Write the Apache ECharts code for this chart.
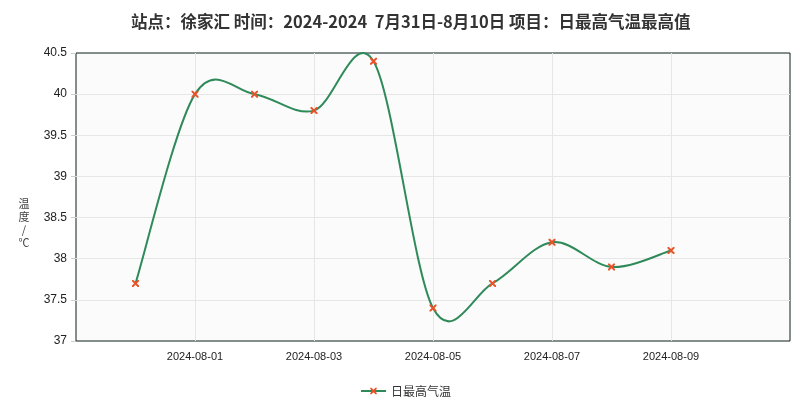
<!DOCTYPE html>
<html>
<head>
<meta charset="utf-8">
<script src="https://cdn.jsdelivr.net/npm/echarts@6/dist/echarts.min.js"></script>
<style>html,body{margin:0;padding:0;background:#fff}#c{width:811px;height:408px}</style>
</head>
<body>
<div id="c"></div>
<script>
// Axis categories (padding days at both ends, as in the reference axis range)
var categories = ['2024-07-30','2024-07-31','2024-08-01','2024-08-02','2024-08-03','2024-08-04','2024-08-05','2024-08-06','2024-08-07','2024-08-08','2024-08-09','2024-08-10','2024-08-11'];
// Observed dates and daily maximum temperatures
var dates = ['2024-07-31','2024-08-01','2024-08-02','2024-08-03','2024-08-04','2024-08-05','2024-08-06','2024-08-07','2024-08-08','2024-08-09'];
var maxTemp = [37.7, 40.0, 40.0, 39.8, 40.4, 37.4, 37.7, 38.2, 37.9, 38.1];
var yTicks = [37, 37.5, 38, 38.5, 39, 39.5, 40, 40.5];
var xTickLabels = ['2024-08-01','2024-08-03','2024-08-05','2024-08-07','2024-08-09'];
var seriesName = '日最高气温';
var titleText = '站点：徐家汇 时间：2024-2024  7月31日-8月10日 项目：日最高气温最高值';

var pairs = dates.map(function(d, i){ return [d, maxTemp[i]]; });
var idxPairs = dates.map(function(d, i){ return [categories.indexOf(d), maxTemp[i]]; });
var crossPath = 'path://M0,0 L2,0 L5,3 L8,0 L10,0 L10,2 L7,5 L10,8 L10,10 L8,10 L5,7 L2,10 L0,10 L0,8 L3,5 L0,2 Z';
var LINE_COLOR = '#2f8a5a';

function isShown(v){ return xTickLabels.indexOf(v) >= 0; }

// Catmull-Rom spline segments, drawn in pixel space from the axis scales
function renderSeg(params, api){
  var i = params.dataIndex, n = idxPairs.length;
  if (i >= n - 1) return null;
  function P(k){ k = Math.max(0, Math.min(n - 1, k)); return api.coord(idxPairs[k]); }
  var p0 = P(i - 1), p1 = P(i), p2 = P(i + 1), p3 = P(i + 2);
  return {
    type: 'bezierCurve',
    shape: {
      x1: p1[0], y1: p1[1], x2: p2[0], y2: p2[1],
      cpx1: p1[0] + (p2[0] - p0[0]) / 6, cpy1: p1[1] + (p2[1] - p0[1]) / 6,
      cpx2: p2[0] - (p3[0] - p1[0]) / 6, cpy2: p2[1] - (p3[1] - p1[1]) / 6
    },
    style: {stroke: LINE_COLOR, lineWidth: 2, fill: null}
  };
}

var chart = echarts.init(document.getElementById('c'));
chart.setOption({
  animation: false,
  title: {
    text: titleText, left: 126, top: 8,
    textStyle: {fontSize: 16.5, fontWeight: 'bold', color: '#333', fontFamily: 'Noto Sans CJK SC'}
  },
  grid: {left: 76, right: 21, top: 53, bottom: 67, show: true, backgroundColor: '#fbfbfb', borderColor: '#0f1c1c', borderWidth: 1},
  legend: {
    bottom: 6, left: 'center', itemWidth: 25, itemHeight: 8, itemGap: 6,
    data: [seriesName],
    lineStyle: {color: LINE_COLOR, width: 2, opacity: 1},
    textStyle: {fontSize: 12, color: '#333', fontFamily: 'Noto Sans CJK SC'}
  },
  xAxis: {
    type: 'category', data: categories, boundaryGap: false,
    axisLine: {show: false}, axisTick: {show: false},
    axisLabel: {
      interval: function(i, v){ return isShown(v); },
      color: '#222', fontSize: 11, fontFamily: 'Liberation Sans', margin: 10
    },
    splitLine: {show: true, interval: function(i, v){ return isShown(v); }, lineStyle: {color: '#e6e6e6'}}
  },
  yAxis: {
    type: 'value', min: yTicks[0], max: yTicks[yTicks.length - 1], interval: 0.5,
    name: '温\n度\n/\n℃', nameLocation: 'middle', nameRotate: 0, nameGap: 52,
    nameTextStyle: {fontSize: 11, color: '#444', fontFamily: 'Noto Sans CJK SC', lineHeight: 13, align: 'center', verticalAlign: 'top'},
    axisLine: {show: false},
    axisTick: {show: true, length: 5, lineStyle: {color: '#ccc'}},
    axisLabel: {color: '#222', fontSize: 12, fontFamily: 'Liberation Sans', margin: 9,
      formatter: function(v){ return String(v); }},
    splitLine: {show: true, showMinLine: false, showMaxLine: false, lineStyle: {color: '#e6e6e6'}}
  },
  series: [{
    name: seriesName + '曲线', type: 'custom', data: idxPairs,
    renderItem: renderSeg, silent: true, z: 2
  }, {
    name: seriesName, type: 'line', data: pairs,
    symbol: crossPath, symbolSize: 7, showSymbol: true,
    lineStyle: {color: LINE_COLOR, width: 0, opacity: 0},
    itemStyle: {color: '#e8532a'},
    z: 3
  }]
});
</script>
</body>
</html>
